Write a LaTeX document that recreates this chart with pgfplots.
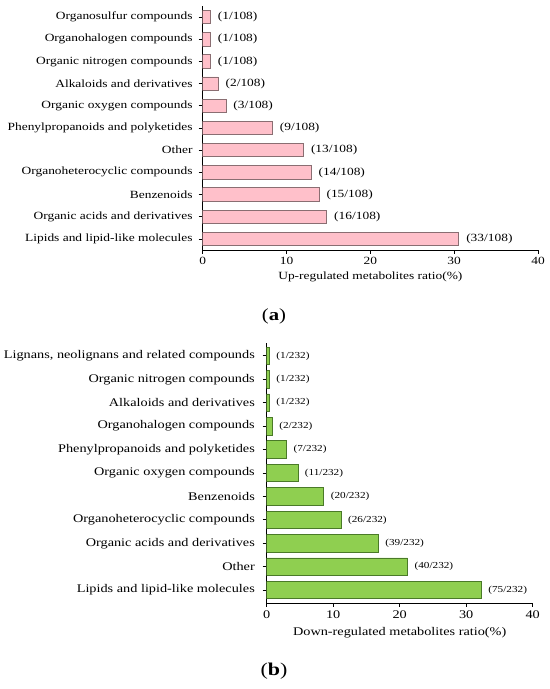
\documentclass[border=0pt]{standalone}
\usepackage{fontspec}
\setmainfont{Liberation Serif}[FakeStretch=1.22]
\usepackage{pgfplots}
\usepackage{pgfplotstable}
\pgfplotsset{compat=1.18}
\definecolor{pinkfill}{HTML}{FFC0CA}
\definecolor{pinkedge}{HTML}{8A6E72}
\definecolor{greenfill}{HTML}{8FCF50}
\definecolor{greenedge}{HTML}{4A7A28}

\pgfplotstableread{
y x lab
0 30.56 (33/108)
1 14.81 (16/108)
2 13.89 (15/108)
3 12.96 (14/108)
4 12.04 (13/108)
5 8.33 (9/108)
6 2.78 (3/108)
7 1.85 (2/108)
8 0.93 (1/108)
9 0.93 (1/108)
10 0.93 (1/108)
}\upreg

\pgfplotstableread{
y x lab
0 32.3 (75/232)
1 21.2 (40/232)
2 16.8 (39/232)
3 11.2 (26/232)
4 8.6 (20/232)
5 4.7 (11/232)
6 3.0 (7/232)
7 0.86 (2/232)
8 0.43 (1/232)
9 0.43 (1/232)
10 0.43 (1/232)
}\downreg

\begin{document}
\begin{tikzpicture}
\useasboundingbox (0,0) rectangle (550bp,689bp);
\pgfplotsset{
  mystyle/.style={
    scale only axis,
    axis lines*=left,
    axis line style={black, line width=0.8bp},
    tick align=outside,
    major tick length=4bp,
    tick style={black, line width=0.8bp},
    xmin=0, xmax=40,
    xtick={0,10,20,30,40},
    ytick={0,...,10},
    enlargelimits=false,
    /pgf/number format/assume math mode=true,
    point meta=explicit symbolic,
    nodes near coords,
    nodes near coords align={horizontal},
  }
}
% (a)
\begin{axis}[mystyle,
  at={(202.7bp,439bp)}, anchor=south west,
  width=335.3bp, height=244bp,
  ymin=-0.5, ymax=10.5,
  yticklabels={Lipids and lipid-like molecules,Organic acids and derivatives,Benzenoids,Organoheterocyclic compounds,Other,Phenylpropanoids and polyketides,Organic oxygen compounds,Alkaloids and derivatives,Organic nitrogen compounds,Organohalogen compounds,Organosulfur compounds},
  ticklabel style={font=\fontsize{11bp}{12bp}\selectfont},
  yticklabel style={inner sep=0pt, xshift=-6bp},
  every node near coord/.append style={font=\fontsize{11bp}{12bp}\selectfont, anchor=west, inner sep=0pt, xshift=7bp, text=black},
  xlabel={Up-regulated metabolites ratio(\%)},
  xlabel style={font=\fontsize{11bp}{12bp}\selectfont, at={(axis description cs:0.5,0)}, anchor=center, yshift=-27bp},
]
\addplot[xbar, bar width=0.6, fill=pinkfill, draw=pinkedge, line width=0.8bp] table[x=x, y=y, meta=lab] {\upreg};
\end{axis}
% (b)
\begin{axis}[mystyle,
  at={(266.7bp,86bp)}, anchor=south west,
  width=266bp, height=260bp,
  ymin=-0.55, ymax=10.55,
  yticklabels={Lipids and lipid-like molecules,Other,Organic acids and derivatives,Organoheterocyclic compounds,Benzenoids,Organic oxygen compounds,Phenylpropanoids and polyketides,Organohalogen compounds,Alkaloids and derivatives,Organic nitrogen compounds,{Lignans, neolignans and related compounds}},
  ticklabel style={font=\fontsize{11.7bp}{13bp}\selectfont},
  yticklabel style={inner sep=0pt, xshift=-7.7bp},
  every node near coord/.append style={font=\fontsize{9.2bp}{10bp}\selectfont, anchor=west, inner sep=0pt, xshift=6.5bp, text=black},
  xlabel={Down-regulated metabolites ratio(\%)},
  xlabel style={font=\fontsize{11.7bp}{13bp}\selectfont, at={(axis description cs:0.5,0)}, anchor=center, yshift=-30bp},
]
\addplot[xbar, bar width=0.75, fill=greenfill, draw=greenedge, line width=0.8bp] table[x=x, y=y, meta=lab] {\downreg};
\end{axis}
\node[font=\fontsize{17bp}{19bp}\selectfont] at (274bp,373bp) {(\textbf{a})};
\node[font=\fontsize{18bp}{20bp}\selectfont] at (274bp,18bp) {(\textbf{b})};
\end{tikzpicture}
\end{document}
